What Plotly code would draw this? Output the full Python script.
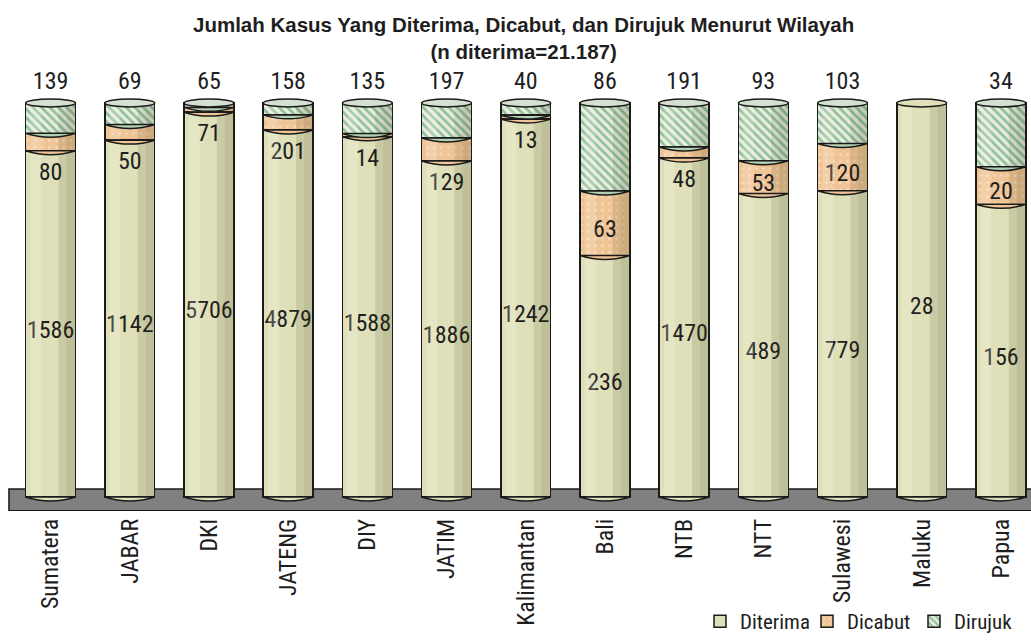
import plotly.graph_objects as go

regions = ["Sumatera", "JABAR", "DKI", "JATENG", "DIY", "JATIM", "Kalimantan",
           "Bali", "NTB", "NTT", "Sulawesi", "Maluku", "Papua"]
diterima = [1586, 1142, 5706, 4879, 1588, 1886, 1242, 236, 1470, 489, 779, 28, 156]
dicabut = [80, 50, 71, 201, 14, 129, 13, 63, 48, 53, 120, 0, 20]
dirujuk = [139, 69, 65, 158, 135, 197, 40, 86, 191, 93, 103, 0, 34]

title_text = "<b>Jumlah Kasus Yang Diterima, Dicabut, dan Dirujuk Menurut Wilayah<br>(n diterima=21.187)</b>"

NARROW = "Liberation Sans Narrow, Arial Narrow, Roboto Condensed, DejaVu Sans Condensed, sans-serif"
BOLD = "Liberation Sans, Arial, sans-serif"
TXT = "#1e1e1e"

C_DIT = "#dfe0b9"
C_CAB = "#efc496"
C_RUJ_BG = "#ebebe6"
C_RUJ_FG = "#2f9a42"

n = len(regions)
xs = list(range(n))
totals = [a + b + c for a, b, c in zip(diterima, dicabut, dirujuk)]
p_dit = [a / t * 100 for a, t in zip(diterima, totals)]
p_cab = [b / t * 100 for b, t in zip(dicabut, totals)]
p_ruj = [c / t * 100 for c, t in zip(dirujuk, totals)]

BW = 0.63
HW = BW / 2
E = 1.0      # half height of cylinder ellipse in % units
MID_ADJ = 2.0  # small downward nudge so text sits at visual centre

fig = go.Figure()
line = dict(color="#1a1a1a", width=1.5)
fig.add_trace(go.Bar(x=xs, y=diterima, name="Diterima", width=BW,
                     marker=dict(color=C_DIT, line=line), hoverinfo="skip"))
fig.add_trace(go.Bar(x=xs, y=dicabut, name="Dicabut", width=BW,
                     marker=dict(color=C_CAB, line=line,
                                 pattern=dict(shape=".", fgcolor="#fbeee0", bgcolor=C_CAB,
                                              size=7, solidity=0.12)),
                     hoverinfo="skip"))
fig.add_trace(go.Bar(x=xs, y=dirujuk, name="Dirujuk", width=BW,
                     marker=dict(color=C_RUJ_BG, line=line,
                                 pattern=dict(shape="\\", fgcolor=C_RUJ_FG, bgcolor=C_RUJ_BG,
                                              size=6, solidity=0.45)),
                     hoverinfo="skip"))

# labels
fig.add_trace(go.Scatter(x=xs, y=[p / 2 - MID_ADJ for p in p_dit], mode="text",
                         text=[str(v) for v in diterima], textposition="middle center",
                         textfont=dict(family=NARROW, size=24, color=TXT),
                         showlegend=False, hoverinfo="skip", cliponaxis=False))
cab_y, cab_pos = [], []
for pd_, pc_ in zip(p_dit, p_cab):
    if pc_ >= 7:
        cab_y.append(pd_ + pc_ / 2 - MID_ADJ)
        cab_pos.append("middle center")
    else:
        cab_y.append(pd_ - E - 1.8)
        cab_pos.append("bottom center")
fig.add_trace(go.Scatter(x=xs, y=cab_y, mode="text",
                         text=[str(v) if v else "" for v in dicabut], textposition=cab_pos,
                         textfont=dict(family=NARROW, size=24, color=TXT),
                         showlegend=False, hoverinfo="skip", cliponaxis=False))
fig.add_trace(go.Scatter(x=xs, y=[100 + E + 1.0] * n, mode="text",
                         text=[str(v) if v else "" for v in dirujuk], textposition="top center",
                         textfont=dict(family=NARROW, size=24, color=TXT),
                         showlegend=False, hoverinfo="skip", cliponaxis=False))

shapes = []
# floor slab
shapes.append(dict(type="rect", xref="paper", yref="y", x0=-0.002, x1=1.01, y0=-3.5, y1=2.0,
                   fillcolor="#808080", line=dict(color="#1a1a1a", width=1.5), layer="below"))
for i in xs:
    xl, xr = i - HW, i + HW
    # shading strips (cylinder look)
    shapes.append(dict(type="rect", x0=i + 0.10, x1=xr, y0=0, y1=100,
                       fillcolor="rgba(60,60,20,0.12)", line=dict(width=0), layer="above"))
    shapes.append(dict(type="rect", x0=i + 0.20, x1=xr, y0=0, y1=100,
                       fillcolor="rgba(60,60,20,0.08)", line=dict(width=0), layer="above"))
    shapes.append(dict(type="rect", x0=xl + 0.06, x1=i - 0.12, y0=0, y1=100,
                       fillcolor="rgba(255,255,240,0.2)", line=dict(width=0), layer="above"))
    # bottom crescent
    shapes.append(dict(type="path",
                       path=f"M {xl},0 Q {i},{-2 * E} {xr},0 Z",
                       fillcolor=C_DIT, line=line, layer="above"))
    # internal boundaries
    b1 = p_dit[i]
    b2 = p_dit[i] + p_cab[i]
    if p_cab[i] > 0:
        shapes.append(dict(type="path", path=f"M {xl},{b1} Q {i},{b1 - 2 * E} {xr},{b1} Z",
                           fillcolor=C_CAB, line=line, layer="above"))
    if p_ruj[i] > 0:
        shapes.append(dict(type="path", path=f"M {xl},{b2} Q {i},{b2 - 2 * E} {xr},{b2} Z",
                           fillcolor="#b3d0b3", line=line, layer="above"))
    top_col = "#d6e0d0" if p_ruj[i] > 0 else C_DIT
    shapes.append(dict(type="circle", x0=xl, x1=xr, y0=100 - E, y1=100 + E,
                       fillcolor=top_col, line=line, layer="above"))

# plot area: pixels 60 (top) .. 511 (bottom); 0% at 497, 100% at 103
PX = (497 - 103) / 100.0
y_top = (497 - 60) / PX
y_bot = -(511 - 497) / PX
PLOT_H = 511 - 60

fig.add_annotation(text=title_text, xref="paper", yref="paper",
                   x=(523 - 11) / 1020.0, xanchor="center",
                   y=1 + (60 - 11) / PLOT_H, yanchor="top", showarrow=False,
                   font=dict(family=BOLD, size=20.5, color=TXT), align="center")

fig.update_layout(
    width=1031, height=643,
    barmode="stack", barnorm="percent",
    paper_bgcolor="white", plot_bgcolor="white",
    margin=dict(l=11, r=0, t=60, b=132, pad=0),
    xaxis=dict(range=[-0.5, 12.38], tickmode="array", tickvals=xs, ticktext=regions,
               tickangle=-90, ticks="", showgrid=False, zeroline=False, showline=False,
               tickfont=dict(family=NARROW, size=24, color=TXT), automargin=False,
               ticklabelstandoff=2),
    yaxis=dict(range=[y_bot, y_top], visible=False, showgrid=False, zeroline=False,
               automargin=False),
    legend=dict(orientation="h", x=(700 - 11) / 1020.0, xanchor="left",
                y=-(642 - 511) / PLOT_H, yanchor="bottom", traceorder="normal",
                font=dict(family=NARROW, size=21, color=TXT), bgcolor="rgba(0,0,0,0)",
                itemwidth=30, tracegroupgap=0, entrywidth=62, entrywidthmode="pixels"),
    shapes=shapes,
    showlegend=True,
)

fig.write_html("out.html", config={"displayModeBar": False},
               post_script="document.body.style.margin='0px';document.body.style.overflow='hidden';")
